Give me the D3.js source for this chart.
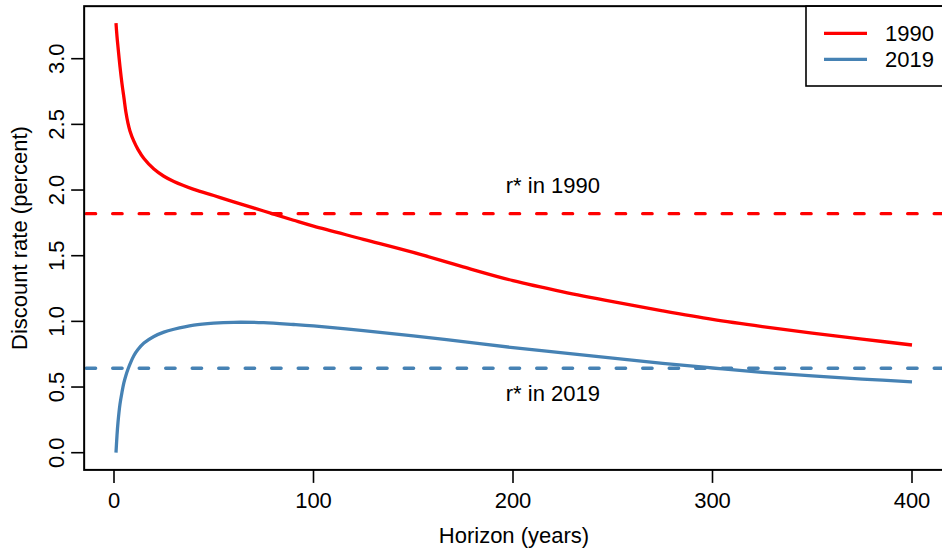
<!DOCTYPE html>
<meta charset="utf-8">
<style>
body { margin: 0; background: white; }
text { font-family: "Liberation Sans", Arial, sans-serif; fill: black; }
</style>
<body>
<script src="https://d3js.org/d3.v7.min.js"></script>
<script>

const width = 942
const height = 548

// Horizon in years, shared by both curves
const horizon = [1, 1.5, 2, 3, 4, 5, 6, 7, 8, 10, 12, 15, 20, 25, 30, 40, 50, 60, 75, 90, 100,
  125, 150, 175, 200, 225, 250, 275, 300, 325, 350, 375, 400]

// Discount rate (percent)
const rate1990 = [3.27, 3.17, 3.09, 2.94, 2.81, 2.70, 2.59, 2.51, 2.45, 2.37, 2.31, 2.24, 2.16,
  2.105, 2.065, 2.005, 1.958, 1.91, 1.84, 1.77, 1.725, 1.625, 1.525, 1.415, 1.31, 1.225, 1.15,
  1.08, 1.015, 0.96, 0.91, 0.865, 0.82]
const rate2019 = [0.0, 0.13, 0.23, 0.37, 0.46, 0.535, 0.59, 0.635, 0.675, 0.74, 0.785, 0.835,
  0.885, 0.918, 0.94, 0.972, 0.987, 0.993, 0.99, 0.976, 0.965, 0.93, 0.89, 0.845, 0.80, 0.76,
  0.72, 0.68, 0.645, 0.612, 0.585, 0.561, 0.54]

// r* levels
const rstar = [1.82, 0.643]
const seriesNames = ['1990', '2019']
const colors = ['#ff0000', '#4682b4']
const labelPos = [[220, 2.04], [220, 0.45]]

const xTicks = [0, 100, 200, 300, 400]
const yTicks = [0, 0.5, 1, 1.5, 2, 2.5, 3]

// R-style 4% padding on the ranges
const xMin = -14.96, xMax = 415.96
const yMin = -0.131, yMax = 3.40

const x = d3.scaleLinear().domain([0, 400]).range([114, 912])
const y = d3.scaleLinear().domain([0, 3]).range([452.7, 58.7])

const svg = d3.select('body').append('svg')
  .attr('width', width)
  .attr('height', height)

const pLeft = x(xMin), pRight = x(xMax), pTop = y(yMax), pBottom = y(yMin)

svg.append('clipPath').attr('id', 'plotclip')
  .append('rect')
  .attr('x', pLeft).attr('y', pTop)
  .attr('width', pRight - pLeft).attr('height', pBottom - pTop)

const plot = svg.append('g').attr('clip-path', 'url(#plotclip)')

// r* dashed lines
plot.selectAll('line.rstar')
  .data(rstar)
  .join('line')
  .attr('x1', pLeft + 2).attr('x2', pRight)
  .attr('y1', d => y(d)).attr('y2', d => y(d))
  .attr('stroke', (d, i) => colors[i])
  .attr('stroke-width', 3.3)
  .attr('stroke-linecap', 'round')
  .attr('stroke-dasharray', '9.5,17')

// curves
const line = d3.line()
  .x(d => x(d[0]))
  .y(d => y(d[1]))
  .curve(d3.curveCatmullRom.alpha(0.5))

const series = [rate1990, rate2019]
plot.selectAll('path.curve')
  .data(series)
  .join('path')
  .attr('fill', 'none')
  .attr('stroke', (d, i) => colors[i])
  .attr('stroke-width', 3.3)
  .attr('d', d => line(horizon.map((h, k) => [h, d[k]])))

// annotations
svg.selectAll('text.ann')
  .data(labelPos)
  .join('text')
  .attr('x', d => x(d[0]))
  .attr('y', d => y(d[1]) + 7.8)
  .attr('text-anchor', 'middle')
  .style('font-size', '22px')
  .text((d, i) => 'r* in ' + seriesNames[i])

// box
svg.append('rect')
  .attr('x', pLeft).attr('y', pTop)
  .attr('width', pRight - pLeft).attr('height', pBottom - pTop)
  .attr('fill', 'none')
  .attr('stroke', 'black')
  .attr('stroke-width', 2)

// x axis
svg.selectAll('line.xt')
  .data(xTicks)
  .join('line')
  .attr('x1', d => x(d)).attr('x2', d => x(d))
  .attr('y1', pBottom).attr('y2', pBottom + 13)
  .attr('stroke', 'black').attr('stroke-width', 1.6)
svg.selectAll('text.xt')
  .data(xTicks)
  .join('text')
  .attr('x', d => x(d))
  .attr('y', 508)
  .attr('text-anchor', 'middle')
  .style('font-size', '22px')
  .text(d => d)

// y axis
svg.selectAll('line.yt')
  .data(yTicks)
  .join('line')
  .attr('x1', pLeft - 13).attr('x2', pLeft)
  .attr('y1', d => y(d)).attr('y2', d => y(d))
  .attr('stroke', 'black').attr('stroke-width', 1.6)
svg.selectAll('text.yt')
  .data(yTicks)
  .join('text')
  .attr('transform', d => `translate(63.5,${y(d)}) rotate(-90)`)
  .attr('text-anchor', 'middle')
  .style('font-size', '22px')
  .text(d => d.toFixed(1))

// axis titles
svg.append('text')
  .attr('x', (pLeft + pRight) / 2)
  .attr('y', 543)
  .attr('text-anchor', 'middle')
  .style('font-size', '22px')
  .text('Horizon (years)')

svg.append('text')
  .attr('transform', `translate(27,${(pTop + pBottom) / 2}) rotate(-90)`)
  .attr('text-anchor', 'middle')
  .style('font-size', '22px')
  .text('Discount rate (percent)')

// legend
const legend = svg.append('g')
legend.append('rect')
  .attr('x', 806).attr('y', pTop)
  .attr('width', pRight - 806).attr('height', 86 - pTop)
  .attr('fill', 'white')
  .attr('stroke', 'black')
  .attr('stroke-width', 1.6)

const rows = legend.selectAll('g.row')
  .data(seriesNames)
  .join('g')
  .attr('transform', (d, i) => `translate(0,${33.3 + i * 26})`)
rows.append('line')
  .attr('x1', 824).attr('x2', 867)
  .attr('stroke', (d, i) => colors[i])
  .attr('stroke-width', 3.3)
rows.append('text')
  .attr('x', 885)
  .attr('y', 7.8)
  .style('font-size', '22px')
  .text(d => d)

</script>
</body>
</html>
